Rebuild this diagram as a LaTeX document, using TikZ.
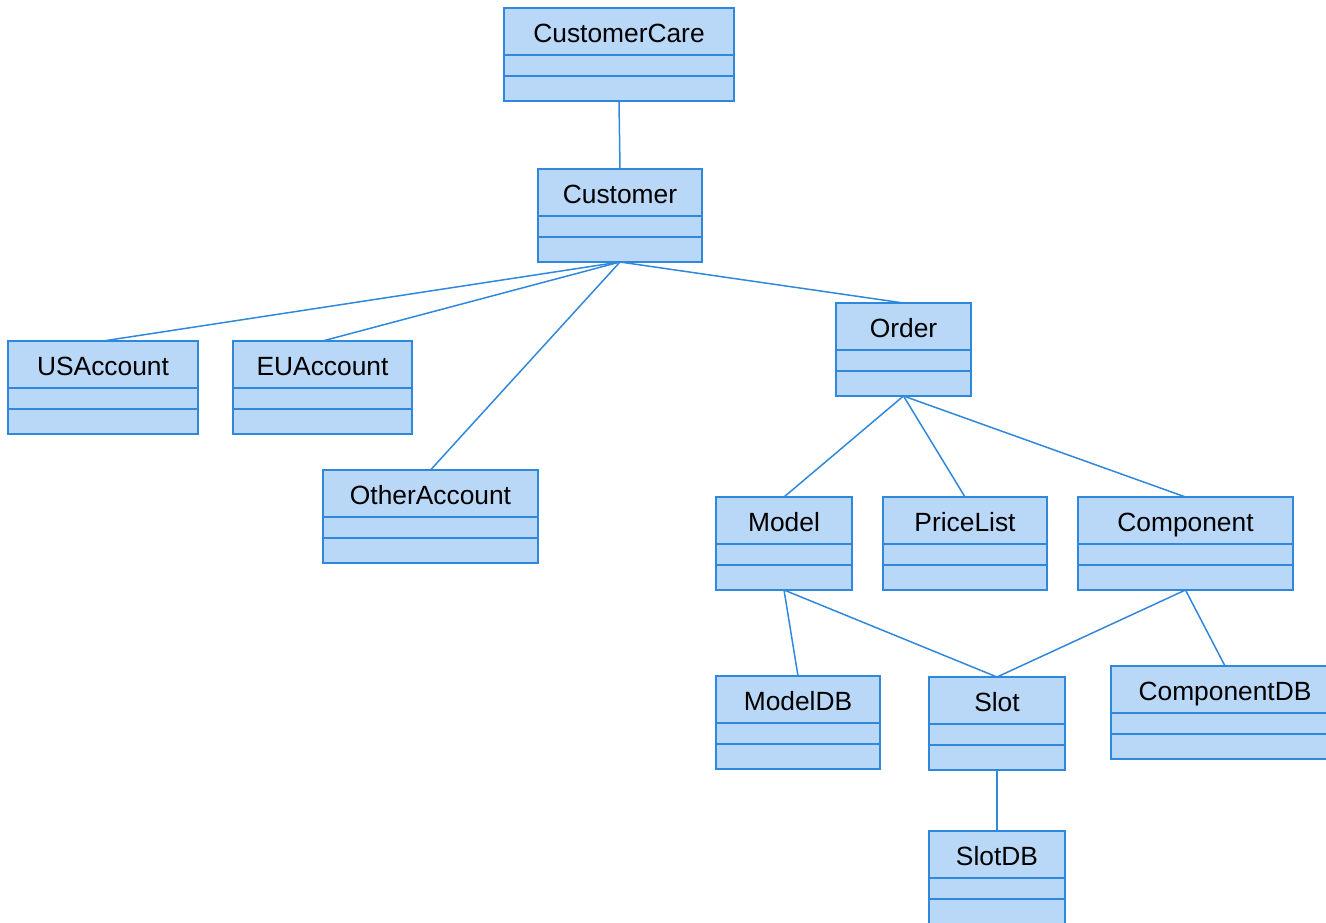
\documentclass[tikz,border=0pt]{standalone}
\usepackage{fontspec}
\setmainfont{Liberation Sans}
\usepackage{xcolor}
\usepackage{tikz}
\usetikzlibrary{positioning,calc}

\definecolor{umlfill}{HTML}{B9D7F6}
\definecolor{umlline}{HTML}{2F88DC}

% class box: name, top centre, width (px), title
\newcommand{\umlclass}[4]{%
    \node[classhead, minimum width=#3*0.02cm, anchor=north] (#1) at (#2) {#4};
    \draw[classpart] (#1.south west) rectangle ($(#1.south east)+(0,21)$);
    \draw[classpart] ($(#1.south west)+(0,21)$) rectangle ($(#1.south east)+(0,46)$);
    \coordinate (#1-b) at ($(#1.south)+(0,46)$);
}

\begin{document}
\begin{tikzpicture}[x=0.02cm,y=-0.02cm,
    classhead/.style={draw=umlline, fill=umlfill, line width=1.1pt, minimum height=0.94cm,
        inner sep=0pt, outer sep=0pt, text height=12.5pt, text depth=0pt,
        font=\fontsize{15}{18}\selectfont},
    classpart/.style={draw=umlline, fill=umlfill, line width=1.1pt},
    link/.style={draw=umlline, line width=0.85pt}]
    \useasboundingbox (0,0) rectangle (1326,923);

    % Classes
    \umlclass{care}{619,8}{230}{CustomerCare}
    \umlclass{cust}{620,169}{164}{Customer}
    \umlclass{us}{103,341}{190}{USAccount}
    \umlclass{eu}{322.5,341}{179}{EUAccount}
    \umlclass{other}{430.5,470}{215}{OtherAccount}
    \umlclass{order}{903.5,303}{135}{Order}
    \umlclass{model}{784,497}{136}{Model}
    \umlclass{price}{965,497}{164}{PriceList}
    \umlclass{comp}{1185.5,497}{215}{Component}
    \umlclass{modeldb}{798,676}{164}{ModelDB}
    \umlclass{slot}{997,677}{136}{Slot}
    \umlclass{compdb}{1225,666}{228}{ComponentDB}
    \umlclass{slotdb}{997,831}{136}{SlotDB}

    % Links
    \draw[link] (care-b) -- (cust.north);
    \draw[link] (cust-b) -- (us.north);
    \draw[link] (cust-b) -- (eu.north);
    \draw[link] (cust-b) -- (other.north);
    \draw[link] (cust-b) -- (order.north);
    \draw[link] (order-b) -- (model.north);
    \draw[link] (order-b) -- (price.north);
    \draw[link] (order-b) -- (comp.north);
    \draw[link] (model-b) -- (modeldb.north);
    \draw[link] (model-b) -- (slot.north);
    \draw[link] (comp-b) -- (slot.north);
    \draw[link] (comp-b) -- (compdb.north);
    \draw[link] (slot-b) -- (slotdb.north);
\end{tikzpicture}
\end{document}
